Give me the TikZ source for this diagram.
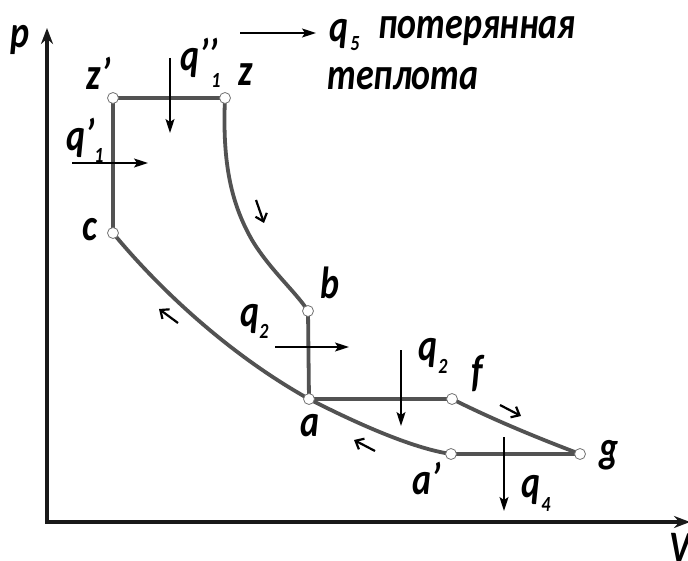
\documentclass[tikz,border=0pt]{standalone}
\usepackage{fontspec}
\setmainfont{Carlito}
\usetikzlibrary{arrows.meta}
\newcommand{\vst}[1]{\scalebox{1}[1.25]{#1}}
\newcommand{\vsts}[1]{\scalebox{1}[1.2]{#1}}
\begin{document}
\begin{tikzpicture}[x=1pt,y=-1pt,
  lbl/.style={font=\fontsize{36}{40}\selectfont\bfseries\itshape, inner sep=0pt},
  sub/.style={font=\fontsize{18}{22}\selectfont\bfseries\itshape, inner sep=0pt},
  cyc/.style={line width=3.8pt, draw=black!68, line cap=round},
  axis/.style={line width=3.5pt, draw=black!90, -{Stealth[length=16pt,width=12pt]}},
  pt/.style={circle, draw=black!55, fill=white, line width=0.8pt, minimum size=11pt, inner sep=0pt},
  heat/.style={line width=1.6pt, -{Stealth[length=14pt,width=9pt,inset=3pt]}},
  dirarr/.style={line width=2.2pt, -{Straight Barb[length=7pt,width=12pt]}}
]
\useasboundingbox (0,0) rectangle (688,561);
% axes
\coordinate (O) at (47,522);
\coordinate (ytip) at (47,28);
\coordinate (xtip) at (690,522);
\draw[axis] (O) ++(0,1.75) -- (ytip);
\draw[axis] (O) ++(-1.75,0) -- (xtip);
\node[lbl] (plbl) at (20,40) {\vst{p}};
\node[lbl] (vlbl) at (680,548) {\vst{V}};
% cycle points
\coordinate (zp) at (113,98);
\coordinate (z) at (225,98);
\coordinate (c) at (113,233);
\coordinate (b) at (308,311);
\coordinate (a) at (309,399);
\coordinate (f) at (452,399);
\coordinate (ap) at (451,454);
\coordinate (g) at (580,454);
% cycle lines
\draw[cyc] (c) -- (zp) -- (z);
\draw[cyc] (z) .. controls (222,165) and (232,205) .. (252,240)
               .. controls (270,270) and (296,292) .. (b);
\draw[cyc] (b) -- (a) -- (f);
\draw[cyc] (f) .. controls (490,418) and (530,435) .. (g);
\draw[cyc] (g) -- (ap);
\draw[cyc] (ap) .. controls (410,448) and (350,420) .. (a);
\draw[cyc] (a) .. controls (230,355) and (160,290) .. (c);
% point markers
\foreach \p in {zp,z,c,b,a,f,ap,g} \node[pt] (m\p) at (\p) {};
% direction arrows
\coordinate (d1s) at (256,200); \coordinate (d1e) at (264,223);
\draw[dirarr] (d1s) -- (d1e);
\coordinate (d2s) at (178,323); \coordinate (d2e) at (159,309);
\draw[dirarr] (d2s) -- (d2e);
\coordinate (d3s) at (375,451); \coordinate (d3e) at (354,440);
\draw[dirarr] (d3s) -- (d3e);
\coordinate (d4s) at (500,405); \coordinate (d4e) at (521,416);
\draw[dirarr] (d4s) -- (d4e);
% heat arrows
\coordinate (h5s) at (240,33); \coordinate (h5e) at (316,33);
\draw[heat] (h5s) -- (h5e);
\coordinate (h1s) at (170,58); \coordinate (h1e) at (170,133);
\draw[heat] (h1s) -- (h1e);
\coordinate (h1ps) at (72,163); \coordinate (h1pe) at (148,163);
\draw[heat] (h1ps) -- (h1pe);
\coordinate (h2s) at (275,347); \coordinate (h2e) at (349,347);
\draw[heat] (h2s) -- (h2e);
\coordinate (h2bs) at (401,350); \coordinate (h2be) at (401,426);
\draw[heat] (h2bs) -- (h2be);
\coordinate (h4s) at (504,437); \coordinate (h4e) at (504,511);
\draw[heat] (h4s) -- (h4e);
% labels
\node[lbl] (lzp) at (99,73) {\vst{z’}};
\node[lbl] (lz) at (246,75) {\vst{z}};
\node[lbl] (lqpp) at (199,58) {\vst{q’’}};
\node[sub] (lqpp1) at (216,80) {\vsts{1}};
\node[lbl] (lqp) at (81,138) {\vst{q’}};
\node[sub] (lqp1) at (99,155) {\vsts{1}};
\node[lbl] (lc) at (90,230) {\vst{c}};
\node[lbl] (lb) at (330,283) {\vst{b}};
\node[lbl] (lq2) at (250,319) {\vst{q}};
\node[sub] (lq2s) at (264,331) {\vsts{2}};
\node[lbl] (lq2b) at (428,353) {\vst{q}};
\node[sub] (lq2bs) at (443,366) {\vsts{2}};
\node[lbl] (lf) at (477,373) {\vst{f}};
\node[lbl] (la) at (310,426) {\vst{a}};
\node[lbl] (lap) at (427,478) {\vst{a’}};
\node[lbl] (lg) at (609,455) {\vst{g}};
\node[lbl] (lq4) at (531,490) {\vst{q}};
\node[sub] (lq4s) at (546,504) {\vsts{4}};
% heading
\node[lbl] (lq5) at (339,34) {\vst{q}};
\node[sub] (lq5s) at (355,44) {\vsts{5}};
\node[lbl, anchor=west] (lpot) at (378,31) {\vst{потерянная}};
\node[lbl, anchor=west] (ltepl) at (327,79) {\vst{теплота}};
\end{tikzpicture}
\end{document}
